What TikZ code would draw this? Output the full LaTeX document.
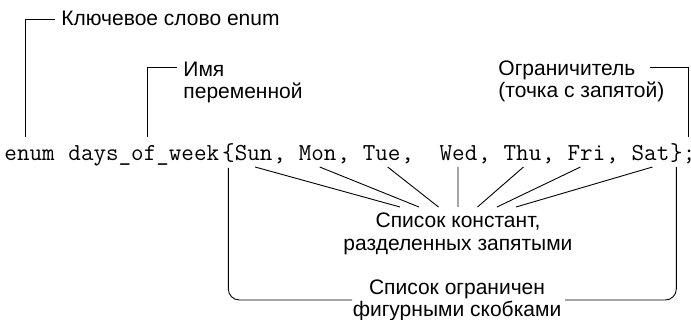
\documentclass[tikz,border=0pt]{standalone}
\usepackage{fontspec}
\setmainfont{Liberation Sans}
\begin{document}
\begin{tikzpicture}[x=1pt,y=1pt,line width=0.9pt,
  tok/.style={anchor=base west, inner sep=0pt, font=\ttfamily\fontsize{24.38}{26}\selectfont},
  toplab/.style={anchor=base west, inner sep=0pt, font=\fontsize{21}{21}\selectfont},
  botlab/.style={anchor=base, inner sep=0pt, font=\fontsize{21}{23}\selectfont}]
\useasboundingbox (0,0) rectangle (691,-320);
% code tokens
\foreach \n/\i/\t in {enum/0/enum, days/5/days\_of\_week, lbr/17/\{, sun/18/Sun, ca/21/{,}, mon/23/Mon, cb/26/{,}, tue/28/Tue, cc/31/{,}, wed/34/Wed, cd/37/{,}, thu/39/Thu, ce/42/{,}, fri/44/Fri, cf/47/{,}, sat/49/Sat, rbr/52/\}, semi/53/;}
  \node[tok] (\n) at ({4+\i*12.8},-161) {\t};
% labels
\node[toplab] (kw) at (61,-26) {Ключевое слово enum};
\node[toplab] (name) at (183,-77) {\begin{tabular}[t]{@{}l@{}}Имя\\переменной\end{tabular}};
\node[toplab] (lim) at (498,-76) {\begin{tabular}[t]{@{}l@{}}Ограничитель\\(точка с запятой)\end{tabular}};
\node[botlab] (lst) at (458,-228) {\begin{tabular}[t]{@{}c@{}}Список констант,\\разделенных запятыми\end{tabular}};
\node[botlab, font=\fontsize{21}{20}\selectfont] (brl) at (457,-295) {\begin{tabular}[t]{@{}c@{}}Список ограничен\\фигурными скобками\end{tabular}};
% connectors
\draw ([xshift=-4.6,yshift=24]enum.base) |- ([xshift=-6,yshift=7]kw.base west);
\draw ([xshift=4,yshift=24]days.base) |- ([xshift=-6,yshift=10]name.base west);
\draw ([xshift=-1,yshift=24]semi.base) |- ([xshift=-15,yshift=9]lim.base east);
\draw[rounded corners=11pt] ([yshift=-7]lbr.base) |- ([xshift=-105,yshift=-5]brl.base);
\draw[rounded corners=11pt] ([xshift=108,yshift=-5]brl.base) -| ([yshift=-6]rbr.base);
\foreach \n/\dx/\sx in {sun/-58/1.4, mon/-39/2, tue/-19.5/6, wed/0/-0.5, thu/19.5/1, fri/39/-6, sat/58/2}
  \draw ([xshift=\sx,yshift=-6]\n.base) -- ([xshift=\dx,yshift=21]lst.base);
\end{tikzpicture}
\end{document}
